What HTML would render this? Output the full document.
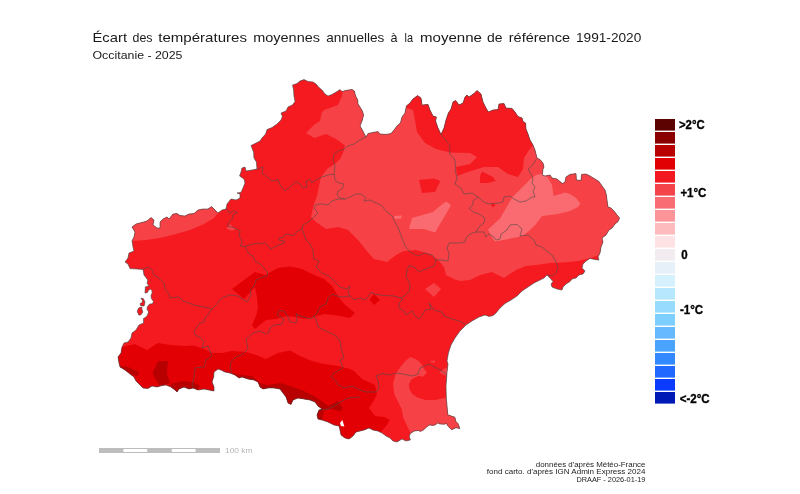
<!DOCTYPE html>
<html lang="fr">
<head>
<meta charset="utf-8">
<title>Écart des températures moyennes annuelles - Occitanie 2025</title>
<style>
html,body{margin:0;padding:0;background:#fff;}
body{width:800px;height:494px;overflow:hidden;position:relative;font-family:"Liberation Sans",sans-serif;}
svg{position:absolute;left:0;top:0;display:block;}
text{font-family:"Liberation Sans",sans-serif;}
.t{font-size:13.4px;fill:#1a1a1a;}
.st{font-size:11.2px;fill:#1a1a1a;}
.lg{font-size:12.4px;font-weight:bold;fill:#000;stroke:#000;stroke-width:0.35px;}
.ft{font-size:7.6px;fill:#222;}
.sc{font-size:8px;fill:#b4b4b4;}
</style>
</head>
<body>
<svg width="800" height="494" viewBox="0 0 800 494">
<rect x="0" y="0" width="800" height="494" fill="#ffffff"/>
<defs><clipPath id="reg"><polygon points="251,145.6 255,143.6 260,141 262,138 265.6,134 267,129.6 272,127.6 277,124 281,120 282.4,116.4 281,113 286,111 288,107 292.4,105 295,101.6 294,96 293.6,90 292.6,85 297,83.6 300,81 304,79.6 308,81.4 313,82 316,84 319,87.6 322,90 325,94 328,96 332,94.4 337,91.6 340,89.6 342,91.6 346,90.4 352,89.4 354.4,91 355.6,96 357.6,99.6 358,104 360,107 362.4,111 363.6,115 362.4,120 360,126 362.4,130 364.4,134 366,137 368,133.6 373,132.4 378,131.6 380,134 386,134.4 391,133.6 394,130 397,126 400.4,123 402,117 405,113 406.4,106 410,103 413,99 417.6,95.6 421,98 422,105 428,104.4 430,110 433,116 436.4,117 435.6,121 438,128 441,134.4 444,128 446,120 448.4,113 451,109 453,102 455.6,100.4 459,105 463,103 465,97 467,95 469,97 474,93.6 477,90.6 481,94 483,102 486,108 488.4,112 493,110 498,109.6 499,104 504,103.6 506,108 512,108.4 515,112 518,116.4 522,118 523,121.6 525.6,123 526,129 528,134 530,140 533,145 535,150 537,158 540,159.6 543,163 544,167 543,169 542.4,175 545,176 550,175 552,178 557,179 560,181.6 562.4,183.6 565,182 566,177 570,174.4 576,173.6 576.4,180 581,180.4 581.6,174.4 586,174 590,176 595,179 599,181.6 602,186 605,190 606.4,195 607,200 608,207 611,208 614,211 617,215 619.6,218 618,221.6 615,224 612,228 609,230 606,235 602,238 603,242 601,247 600,253 598,257 599,260 595,259.6 590,258.4 586,261 583,264 582,268 585,271 583,274 579,275 576,278 572,279 570,281.6 566,284 563,287 562,290 557,289 552,287 551,284 553,281.6 550,278 547,275 544,278 540,280 534,283 528,287 522,291 517,296 511,300 505,303.5 500,308 496,313 493,315.6 489,316.4 485,315 479,317 472,321 466,325 460,331 455,338 451,345 448.4,353 447,361 448,364 447,372 446.5,380 446,386 446.4,400 446.8,403.2 447.8,414.8 454.9,417.3 455.9,421.4 457.9,423.4 459.9,428.5 455.9,427.7 451.8,429.7 448.3,426.5 446.3,423.4 444.3,424.2 439.7,423.9 437.7,422.9 435.1,424.9 432.6,425.4 429.6,424.9 426.5,427 424,429.5 420.4,431.5 418.4,430.5 414.4,431 410.3,433.5 409.3,436.6 410.3,440 406,441 402,439 397,442 393,441 390,438 386,436 382,433 378,431 373,430 369,428 364,430 360,431 356,432 353,436 349,439 345,438 341,435 340,430 339,426 334,425 328,422 322,420 318,419 317,415 319,410 322,409 318,406 315,402 310,400 304,399 298,398 293,400 291,404.4 288,403 286,397 283,393 280,389 274,388 268,388 263,389 260,387 258,382 254,380 248,379 242,377 239,378 235,375 230,373 225,372 221,370 218,369 214,372 213.6,377 212,382 214,387 214,391 209,390 204,389 198,390 193,388 189,389 184,387 179,389 177,392 175,390 171,387 166,385 162,385.6 157,387 152,386 148,388.4 143,388 140,385 136,381 134,377 130,374 125,370 120,367 119,363 118,357 121,353 122,347 124,343 128,342 131,338 132,333 136,330 139,325 143.6,323 143.5,318.5 145.8,317.2 147.4,315.2 148.6,312 147,309.1 147.4,306.7 149.8,303.9 152.2,303.9 153.5,301.5 151.4,298.6 151,295.4 152.2,293 151.8,290.5 150.6,289.1 148.6,290.1 147.4,292.6 145,293 145.4,286.9 149,285.7 147,283.2 147.8,280 147,279 144,275 143,269.4 137,269 130,268.6 128,264 125,262 128,258 129,253 134,251 133,247 132,241 134,237 135,232 132,227 136,224 142,222.4 147,221 151,217.6 154,220 153,225 157,228 160,228 160,222 163,219 167,217 169,219 173,214 177,213.6 180,215.6 185,216 189,214 194,213.6 198,210 203,209 208,209 211.6,206.6 215,210 218,213 222,210 226,209 227,204 231,199 236,200 240,198 240,194 237,193 241,192.4 243,188 245,183 244,179 239.6,176 241,172 242,168 245,167 246,171 252,170 257,169 256.4,162 254,158 253.6,152"/><polygon points="140.9,298.2 143.3,298.6 145,301.9 144.1,305.9 142.5,305.9 140.5,305.5 140.1,303.5 142.1,302.7 142.5,300.6"/><polygon points="139.3,307.5 141.7,307.1 142.1,310 142.9,312 140.9,314.8 138.9,315.2 137.3,311.6 138.1,309.1"/></clipPath></defs>
<g clip-path="url(#reg)">
<rect x="100" y="60" width="540" height="400" fill="#f41a20"/>
<polygon points="343,85 342,96 338,105 324,110 321.6,113 320,121 314.4,124.4 306,133 314.4,138 326,134 336,139 345,145.6 343,153 340,159 335,164 328,168 321,177 319,186 317,196 314,204 312,212 311,217 316,222 326,229 338,227 348,230 354,236 358,240 366,250 374,259 387,262 396,255 404,251 416,250 430,254 438,260 444,267 446,275 454,279 460,281 470,280 480,275 492,272 504,278 516,270 526,266 536,265 550,263 564,262.4 578,261 590,258 598,255.6 630,255 630,80 343,80" fill="#f64246"/>
<polygon points="405,100 406.4,108 413,110 415,120 417,132 425,143 436,149 450,152.4 470,153 477,157 470,164 456,167 457,176 468,172 484,167 498,167 508,174 518,177 523,169 524,158 529,150 533,145 545,140 545,80 405,80" fill="#f41a20"/>
<polygon points="222,200 218,213 214,218 204,224 190,230 176,234 160,238 146,240 132,241 118,241 118,200" fill="#f64246"/>
<polygon points="410.3,357.1 417.4,360.1 421.5,364.2 424.5,369.2 427,372.8 423,376.8 418.4,375.8 415.4,377.3 411.3,379.4 408.8,384.4 409.8,390 412.3,394 417.4,397.6 425.5,400.1 435.6,400.1 441.7,398.6 446.3,397.6 460,397 460,445 409,445 410.3,432.5 406.8,425.4 403.2,417.3 401.7,409.2 397.7,401.1 394.6,395 393.4,388 393.1,383.4 395.6,374.3 400.2,367.2 405.3,361.1" fill="#f64246"/>
<polygon points="434,283 441,289 434,297 425,289" fill="#f64246"/>
<polygon points="430,361 435,360.6 434.6,362.7 431.6,362.4" fill="#f64246"/>
<polygon points="439.2,372.3 445.8,367.7 448,368.2 448,376.8 442.7,374.3" fill="#f64246"/>
<polygon points="226.4,228.6 230.6,223.8 232.4,226.8 236,229.2 231.2,230.8" fill="#f64246"/>
<polygon points="446,201.6 451,205 446,214 440,224 435,232.4 424,229 409,229 412,218 433,212 440,206" fill="#f96b70"/>
<polygon points="543,173.6 548,178 552,185 553.6,196 565,192.4 570,194 576,198 580.4,203.6 578,207 570,211 558,214 542,216 536,224 530,230 524,235 518,237 506,239.5 495,241.6 491,236 488,229.5 500,218.5 506,208 512.5,197 521,188.5 529.5,180 536,175" fill="#f96b70"/>
<polygon points="394,216 402,215.6 401,218.4 395,219" fill="#f96b70"/>
<polygon points="419,180 434,178.6 440.4,181 435,192 422,193" fill="#f41a20"/>
<polygon points="482,171.6 493,177 495.6,181 488,183 480,183 480,176" fill="#f41a20"/>
<polygon points="493,202.8 495.6,205 493,207.6 490.8,205" fill="#f41a20"/>
<polygon points="232,289 255,272 265,275 278,268 290,266.4 302,269 314,275 324,279 332,286 338,296 344,304 355,313 350,318 338,315.6 324,314 314,317 304,319 296,317 286,316 276,319 266,320 255,329 252,325 256,316 258,308 257,298 255,287 244,299" fill="#e20004"/>
<polygon points="122,347 135,344 147,350 158,343 170,345 184,346 194,345.6 204,349 212,353 222,353 232,351 246,352 256,355 266,359 278,353 290,350.4 300,356 312,361 324,364 338,366 350,369 354,371 362,379 375,385 377,394 374,400 369,408 375,416 384,417 390,420 386,426 381,432 381,450 110,450 110,347" fill="#e20004"/>
<polygon points="374,294 380,300 374,305 369.6,299.6" fill="#e20004"/>
<polygon points="121,366 128,367 139,372 138,376 132,375 125,370 118,368" fill="#b80000"/>
<polygon points="158,361 168,361 167,374 170,383 160,386 157,382 152.4,373" fill="#b80000"/>
<polygon points="171,383.6 184,381 194,382.4 200,385.6 196,392 171,392" fill="#b80000"/>
<polygon points="230,373 240,375 252,376 260,383 268,385 280,383 290,386 304,391 314,396 320,400 328,406 338,401 343,408 340,411.6 332,409 324,409.6 322,420 316,424 300,412 285,412 270,396 240,386 225,378" fill="#b80000"/>
<g fill="none" stroke="#5a4a4a" stroke-width="0.8" stroke-opacity="0.8" stroke-linejoin="round">
<polyline points="441,134.4 448,143 450,146 449.6,154 455,160 455.6,168.8 455,170 457,178 455,184 461,188 464,194 472,193 478,197"/>
<polyline points="478,197 484,202 489,204 498,203 503,202 504,197 510,196 514,199 520,202 526,201 532,197 535,197 533,191 535,187 532,183 533,179 531,174 528,169 533,165 536.4,159"/>
<polyline points="478,197 473,201 473,205 469,208 473,212 479,214 485,218 484,223 479,227 476,232"/>
<polyline points="476,232 484,232 486,237 489,234 494,237 496,240 500,239 501,234 507,230 510,225 517,224.4 522,229 520,236 528,235 534,240 536,245 542,247 547,251 552,255 555,260 558,267 556,273 552,276 547,275"/>
<polyline points="476,232 470,234 466,238 465,242 459,243 449,243 447,248 449,254 448,261 442,260 436,260"/>
<polyline points="436,260 432,255 424,253 418,256 410,252 405,246 402,238 399,230 396,224 392,216 386,211 381,205 376,203 370,200 364,201 366,198 361,194 356,194 350,197 345,199"/>
<polyline points="340,150 334,154 333,160 335,166 334,174 335,180 339,183 344,184 342,189 338,191 337,195 340,198 345,199"/>
<polyline points="366,137 360,140 354,144 348,146 343,150 340,150"/>
<polyline points="257,169 263,167 262,173 267,177 272,181 278,179.6 280,185 285,191 290,187 296,181.6 300,184 303,188 307,187 306,181 310,179.6 312,183 316,180 322,177 328,175 334,174"/>
<polyline points="345,199 338,199 332,201 328,205 322,204 316,204.4 314,208 318,213 315,216 312,219 307,223 303,225 302,229"/>
<polyline points="226.4,208.2 227.6,210.6 229.4,213 233.6,210.6 237.2,212.8 233,214.8 232.4,219 228.8,222.6 227.6,226.2 231.2,226.8 236,228.6 240.2,231 239,235.8 241.4,239.4 242,243 240.2,246 245,246.6"/>
<polyline points="245,246.6 248,245.4 252.8,244.2 257.6,243 261.2,244.2 264.8,242.4 267.8,245.4 270.8,249 274.4,247.2 278,245.4 284,243 284.6,241.2 279.2,240 279.2,238.2 284,237 285.8,234 290,234.6 293.6,235.8 296,232.2 302,229"/>
<polyline points="245,246.6 246.8,250.2 249.2,254 253,256 255,261 260,264 265,269 268,273 267,276 260,278 256,280 254,286 250,290 251,295 247,302 244,300 238,296 230,295 224,297 220,300 217,304 212,309"/>
<polyline points="302,229 304,234 306,240 310,244 313,250 314,259 319,261 316,267 322,273 329,276 334,281 340,287 347,289 350,286 348,292 350,296"/>
<polyline points="350,296 354,300 360,298 365,300 368,297 371,292.4 375,294 380,295 387,295.6 394,296 401,298"/>
<polyline points="401,298 404,296 409.6,291 410,284 406,277 407,270 409,265.6 414,267 419,271.6 426,269 434,266 436,260"/>
<polyline points="401,298 403,299 399,303 399,308 404,311 406,315 412,311 415,316 419,319 423,314 425,310 431,309 429,303 432,307 434,310 442,312 444,316 452,319 459,321 465.6,324.4"/>
<polyline points="350,296 342,297 337,296 332,294 328,298 326,304 320,307 317,313 314,316 310,319 304,317 299,315.6 296,313.6"/>
<polyline points="296,313.6 297,319 296,323 290,322 288,317 284,311 279,310.4 277,315 284,319 282,324 274,325 270,328 269,332 266,334 260,331 253,333 246,339 248,349 243,354 236,357 231,362 230,368 232,373"/>
<polyline points="314,316 317,322 318,327 324,330 330,333 335,335 338,339 340,340 341,348 344,358 340,360 343,368 334,373 331,377 336,381 338,385 344,388 352,386 360,390 366,392 376,392 379,388 378,380 376,376"/>
<polyline points="376,376 382,373.6 390,375 396,373 405,374.4 412,376 418,374 420,368 429,364 436,368 442,371 447,375"/>
<polyline points="360,397 348,398 340,402 334,406 328,409 320,410"/>
<polyline points="143,269.4 148,267 152,270 154,275 160,279 164,283 165,289 169,294 170,298 179,297 183,301 189,303 194,305 204,307 212,309"/>
<polyline points="212,309 205,318 204,322 200,323 194,331 195,335 200,337 204,342 202,348 208,346 210,351 212,356 206,360 204,367 195,368 194,378 192,385 195,389"/>
</g>
</g>
<polygon points="340,423 342.4,420 343.6,424 344.4,426.4 341,426" fill="#fff"/>
<g fill="none" stroke="#4a4444" stroke-width="0.8" stroke-opacity="0.8" stroke-linejoin="round">
<polygon points="251,145.6 255,143.6 260,141 262,138 265.6,134 267,129.6 272,127.6 277,124 281,120 282.4,116.4 281,113 286,111 288,107 292.4,105 295,101.6 294,96 293.6,90 292.6,85 297,83.6 300,81 304,79.6 308,81.4 313,82 316,84 319,87.6 322,90 325,94 328,96 332,94.4 337,91.6 340,89.6 342,91.6 346,90.4 352,89.4 354.4,91 355.6,96 357.6,99.6 358,104 360,107 362.4,111 363.6,115 362.4,120 360,126 362.4,130 364.4,134 366,137 368,133.6 373,132.4 378,131.6 380,134 386,134.4 391,133.6 394,130 397,126 400.4,123 402,117 405,113 406.4,106 410,103 413,99 417.6,95.6 421,98 422,105 428,104.4 430,110 433,116 436.4,117 435.6,121 438,128 441,134.4 444,128 446,120 448.4,113 451,109 453,102 455.6,100.4 459,105 463,103 465,97 467,95 469,97 474,93.6 477,90.6 481,94 483,102 486,108 488.4,112 493,110 498,109.6 499,104 504,103.6 506,108 512,108.4 515,112 518,116.4 522,118 523,121.6 525.6,123 526,129 528,134 530,140 533,145 535,150 537,158 540,159.6 543,163 544,167 543,169 542.4,175 545,176 550,175 552,178 557,179 560,181.6 562.4,183.6 565,182 566,177 570,174.4 576,173.6 576.4,180 581,180.4 581.6,174.4 586,174 590,176 595,179 599,181.6 602,186 605,190 606.4,195 607,200 608,207 611,208 614,211 617,215 619.6,218 618,221.6 615,224 612,228 609,230 606,235 602,238 603,242 601,247 600,253 598,257 599,260 595,259.6 590,258.4 586,261 583,264 582,268 585,271 583,274 579,275 576,278 572,279 570,281.6 566,284 563,287 562,290 557,289 552,287 551,284 553,281.6 550,278 547,275 544,278 540,280 534,283 528,287 522,291 517,296 511,300 505,303.5 500,308 496,313 493,315.6 489,316.4 485,315 479,317 472,321 466,325 460,331 455,338 451,345 448.4,353 447,361 448,364 447,372 446.5,380 446,386 446.4,400 446.8,403.2 447.8,414.8 454.9,417.3 455.9,421.4 457.9,423.4 459.9,428.5 455.9,427.7 451.8,429.7 448.3,426.5 446.3,423.4 444.3,424.2 439.7,423.9 437.7,422.9 435.1,424.9 432.6,425.4 429.6,424.9 426.5,427 424,429.5 420.4,431.5 418.4,430.5 414.4,431 410.3,433.5 409.3,436.6 410.3,440 406,441 402,439 397,442 393,441 390,438 386,436 382,433 378,431 373,430 369,428 364,430 360,431 356,432 353,436 349,439 345,438 341,435 340,430 339,426 334,425 328,422 322,420 318,419 317,415 319,410 322,409 318,406 315,402 310,400 304,399 298,398 293,400 291,404.4 288,403 286,397 283,393 280,389 274,388 268,388 263,389 260,387 258,382 254,380 248,379 242,377 239,378 235,375 230,373 225,372 221,370 218,369 214,372 213.6,377 212,382 214,387 214,391 209,390 204,389 198,390 193,388 189,389 184,387 179,389 177,392 175,390 171,387 166,385 162,385.6 157,387 152,386 148,388.4 143,388 140,385 136,381 134,377 130,374 125,370 120,367 119,363 118,357 121,353 122,347 124,343 128,342 131,338 132,333 136,330 139,325 143.6,323 143.5,318.5 145.8,317.2 147.4,315.2 148.6,312 147,309.1 147.4,306.7 149.8,303.9 152.2,303.9 153.5,301.5 151.4,298.6 151,295.4 152.2,293 151.8,290.5 150.6,289.1 148.6,290.1 147.4,292.6 145,293 145.4,286.9 149,285.7 147,283.2 147.8,280 147,279 144,275 143,269.4 137,269 130,268.6 128,264 125,262 128,258 129,253 134,251 133,247 132,241 134,237 135,232 132,227 136,224 142,222.4 147,221 151,217.6 154,220 153,225 157,228 160,228 160,222 163,219 167,217 169,219 173,214 177,213.6 180,215.6 185,216 189,214 194,213.6 198,210 203,209 208,209 211.6,206.6 215,210 218,213 222,210 226,209 227,204 231,199 236,200 240,198 240,194 237,193 241,192.4 243,188 245,183 244,179 239.6,176 241,172 242,168 245,167 246,171 252,170 257,169 256.4,162 254,158 253.6,152"/>
<polygon points="140.9,298.2 143.3,298.6 145,301.9 144.1,305.9 142.5,305.9 140.5,305.5 140.1,303.5 142.1,302.7 142.5,300.6"/>
<polygon points="139.3,307.5 141.7,307.1 142.1,310 142.9,312 140.9,314.8 138.9,315.2 137.3,311.6 138.1,309.1"/>
</g>
<rect x="655" y="119" width="20" height="11.6" fill="#5c0200"/>
<rect x="655" y="132" width="20" height="11.6" fill="#8a0000"/>
<rect x="655" y="145" width="20" height="11.6" fill="#b80000"/>
<rect x="655" y="158" width="20" height="11.6" fill="#e10004"/>
<rect x="655" y="171" width="20" height="11.6" fill="#f21a20"/>
<rect x="655" y="184" width="20" height="11.6" fill="#f5434a"/>
<rect x="655" y="197" width="20" height="11.6" fill="#f96c74"/>
<rect x="655" y="210" width="20" height="11.6" fill="#fc959a"/>
<rect x="655" y="223" width="20" height="11.6" fill="#febbbe"/>
<rect x="655" y="236" width="20" height="11.6" fill="#ffe3e4"/>
<rect x="655" y="249" width="20" height="11.6" fill="#f2ebef"/>
<rect x="655" y="262" width="20" height="11.6" fill="#e6f0f9"/>
<rect x="655" y="275" width="20" height="11.6" fill="#d6f1fe"/>
<rect x="655" y="288" width="20" height="11.6" fill="#b6e7fe"/>
<rect x="655" y="301" width="20" height="11.6" fill="#97dcfe"/>
<rect x="655" y="314" width="20" height="11.6" fill="#7dcfff"/>
<rect x="655" y="327" width="20" height="11.6" fill="#66b8ff"/>
<rect x="655" y="340" width="20" height="11.6" fill="#4aa3ff"/>
<rect x="655" y="353" width="20" height="11.6" fill="#3389ff"/>
<rect x="655" y="366" width="20" height="11.6" fill="#2068ff"/>
<rect x="655" y="379" width="20" height="11.6" fill="#0a3bff"/>
<rect x="655" y="392" width="20" height="11.6" fill="#001bb5"/>
<text class="lg" x="679" y="128.7" textLength="25.6" lengthAdjust="spacingAndGlyphs">&gt;2°C</text>
<text class="lg" x="680.4" y="196.7" textLength="26" lengthAdjust="spacingAndGlyphs">+1°C</text>
<text class="lg" x="681.3" y="258.7" textLength="6.4" lengthAdjust="spacingAndGlyphs">0</text>
<text class="lg" x="680" y="314.1" textLength="23.2" lengthAdjust="spacingAndGlyphs">-1°C</text>
<text class="lg" x="679.7" y="402.7" textLength="30" lengthAdjust="spacingAndGlyphs">&lt;-2°C</text>
<text class="t" x="92.5" y="41.8" textLength="34.5" lengthAdjust="spacingAndGlyphs">Écart</text>
<text class="t" x="132.5" y="41.8" textLength="20" lengthAdjust="spacingAndGlyphs">des</text>
<text class="t" x="158.25" y="41.8" textLength="88.75" lengthAdjust="spacingAndGlyphs">températures</text>
<text class="t" x="253.25" y="41.8" textLength="66.75" lengthAdjust="spacingAndGlyphs">moyennes</text>
<text class="t" x="326.25" y="41.8" textLength="58" lengthAdjust="spacingAndGlyphs">annuelles</text>
<text class="t" x="390.5" y="41.8" textLength="7" lengthAdjust="spacingAndGlyphs">à</text>
<text class="t" x="404.5" y="41.8" textLength="8.5" lengthAdjust="spacingAndGlyphs">la</text>
<text class="t" x="420" y="41.8" textLength="62" lengthAdjust="spacingAndGlyphs">moyenne</text>
<text class="t" x="487" y="41.8" textLength="15.5" lengthAdjust="spacingAndGlyphs">de</text>
<text class="t" x="508.75" y="41.8" textLength="61.25" lengthAdjust="spacingAndGlyphs">référence</text>
<text class="t" x="576" y="41.8" textLength="65.25" lengthAdjust="spacingAndGlyphs">1991-2020</text>
<text class="st" x="92.5" y="59.3" textLength="90" lengthAdjust="spacingAndGlyphs">Occitanie - 2025</text>
<text class="ft" x="645.4" y="466.9" text-anchor="end" textLength="109.6" lengthAdjust="spacingAndGlyphs">données d'après Météo-France</text>
<text class="ft" x="645.4" y="474.4" text-anchor="end" textLength="158.6" lengthAdjust="spacingAndGlyphs">fond carto. d'après IGN Admin Express 2024</text>
<text class="ft" x="645.4" y="482.2" text-anchor="end" textLength="69" lengthAdjust="spacingAndGlyphs">DRAAF - 2026-01-19</text>
<g>
<rect x="99" y="448" width="121" height="5" fill="#bdbdbd"/>
<rect x="123.4" y="449" width="23.8" height="3" fill="#fff"/>
<rect x="171.8" y="449" width="23.8" height="3" fill="#fff"/>
<text class="sc" x="225" y="452.9" textLength="27.5" lengthAdjust="spacingAndGlyphs">100 km</text>
</g>
</svg>
</body>
</html>
